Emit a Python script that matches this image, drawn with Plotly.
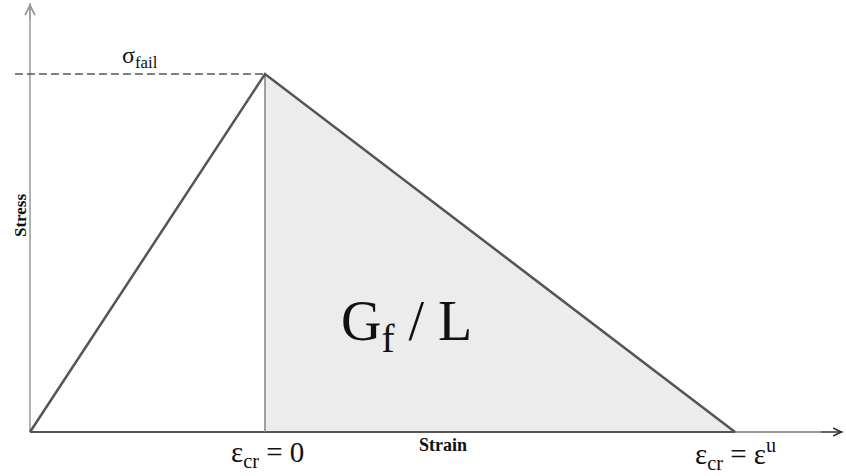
import plotly.graph_objects as go

# Bilinear softening law: linear rise to the failure stress, then linear softening
strain = [0.0, 1.0, 3.0]          # normalised strain: origin, crack onset, ultimate
stress = [0.0, 1.0, 0.0]          # normalised stress: 0, sigma_fail, 0

# Softening region (fracture energy per unit length)
soft_x = [strain[1], strain[1], strain[2], strain[1]]
soft_y = [0.0, stress[1], stress[2], 0.0]

x_range = [-0.1277, 3.4723]
y_range = [-0.1229, 1.2067]
axis_end_x = 3.46
axis_end_y = 1.198

serif = "Liberation Serif, Times New Roman, serif"
edge = "#555555"

fig = go.Figure()

# shaded softening area
fig.add_trace(go.Scatter(x=soft_x, y=soft_y, mode="lines", fill="toself",
                         fillcolor="#ececec", line=dict(width=0),
                         hoverinfo="skip", showlegend=False))

# x axis (thin, black) and y axis (grey)
fig.add_trace(go.Scatter(x=[0, axis_end_x], y=[0, 0], mode="lines",
                         line=dict(color="#333333", width=1), showlegend=False))
fig.add_trace(go.Scatter(x=[0, 0], y=[0, axis_end_y], mode="lines",
                         line=dict(color="#999999", width=1.5), showlegend=False))

# base of the law
fig.add_trace(go.Scatter(x=[strain[0], strain[2]], y=[0, 0], mode="lines",
                         line=dict(color=edge, width=2), showlegend=False))

# vertical at crack onset
fig.add_trace(go.Scatter(x=[strain[1], strain[1]], y=[0, stress[1]], mode="lines",
                         line=dict(color="#808080", width=1.5), showlegend=False))

# dashed failure-stress level
fig.add_trace(go.Scatter(x=[-0.064, strain[1]], y=[stress[1], stress[1]], mode="lines",
                         line=dict(color="#555555", width=1.3, dash="8px,4px"),
                         showlegend=False))

# stress-strain law
fig.add_trace(go.Scatter(x=strain, y=stress, mode="lines",
                         line=dict(color=edge, width=2.5), showlegend=False))

annotations = [
    # axis arrowheads
    dict(x=0, y=axis_end_y, ax=0, ay=axis_end_y - 0.05, xref="x", yref="y",
         axref="x", ayref="y", showarrow=True, arrowhead=5, arrowsize=1.6,
         arrowwidth=1.2, arrowcolor="#999999", text=""),
    dict(x=axis_end_x, y=0, ax=axis_end_x - 0.1, ay=0, xref="x", yref="y",
         axref="x", ayref="y", showarrow=True, arrowhead=5, arrowsize=1.6,
         arrowwidth=1.0, arrowcolor="#333333", text=""),
    dict(x=0.468, y=1.048, text="σ<sub>fail</sub>", showarrow=False,
         font=dict(family=serif, size=24, color="#111111")),
    dict(x=-0.0426, y=0.606, text="<b>Stress</b>", textangle=-90, showarrow=False,
         font=dict(family=serif, size=17, color="#111111")),
    dict(x=1.757, y=-0.036, text="<b>Strain</b>", showarrow=False,
         font=dict(family=serif, size=18, color="#111111")),
    dict(x=1.01, y=-0.062, text="ε<sub>cr</sub> = 0", showarrow=False,
         font=dict(family=serif, size=29, color="#111111")),
    dict(x=3.0, y=-0.062, text="ε<sub>cr</sub> = ε<sup>u</sup>", showarrow=False,
         font=dict(family=serif, size=29, color="#111111")),
    dict(x=1.604, y=0.30, text="G<sub>f</sub> / L", showarrow=False,
         font=dict(family=serif, size=56, color="#111111")),
]

fig.update_layout(
    width=846, height=476,
    margin=dict(l=0, r=0, t=0, b=0),
    paper_bgcolor="white", plot_bgcolor="white",
    xaxis=dict(range=x_range, visible=False, fixedrange=True),
    yaxis=dict(range=y_range, visible=False, fixedrange=True),
    annotations=annotations,
    showlegend=False,
)

fig.write_html("out.html")
